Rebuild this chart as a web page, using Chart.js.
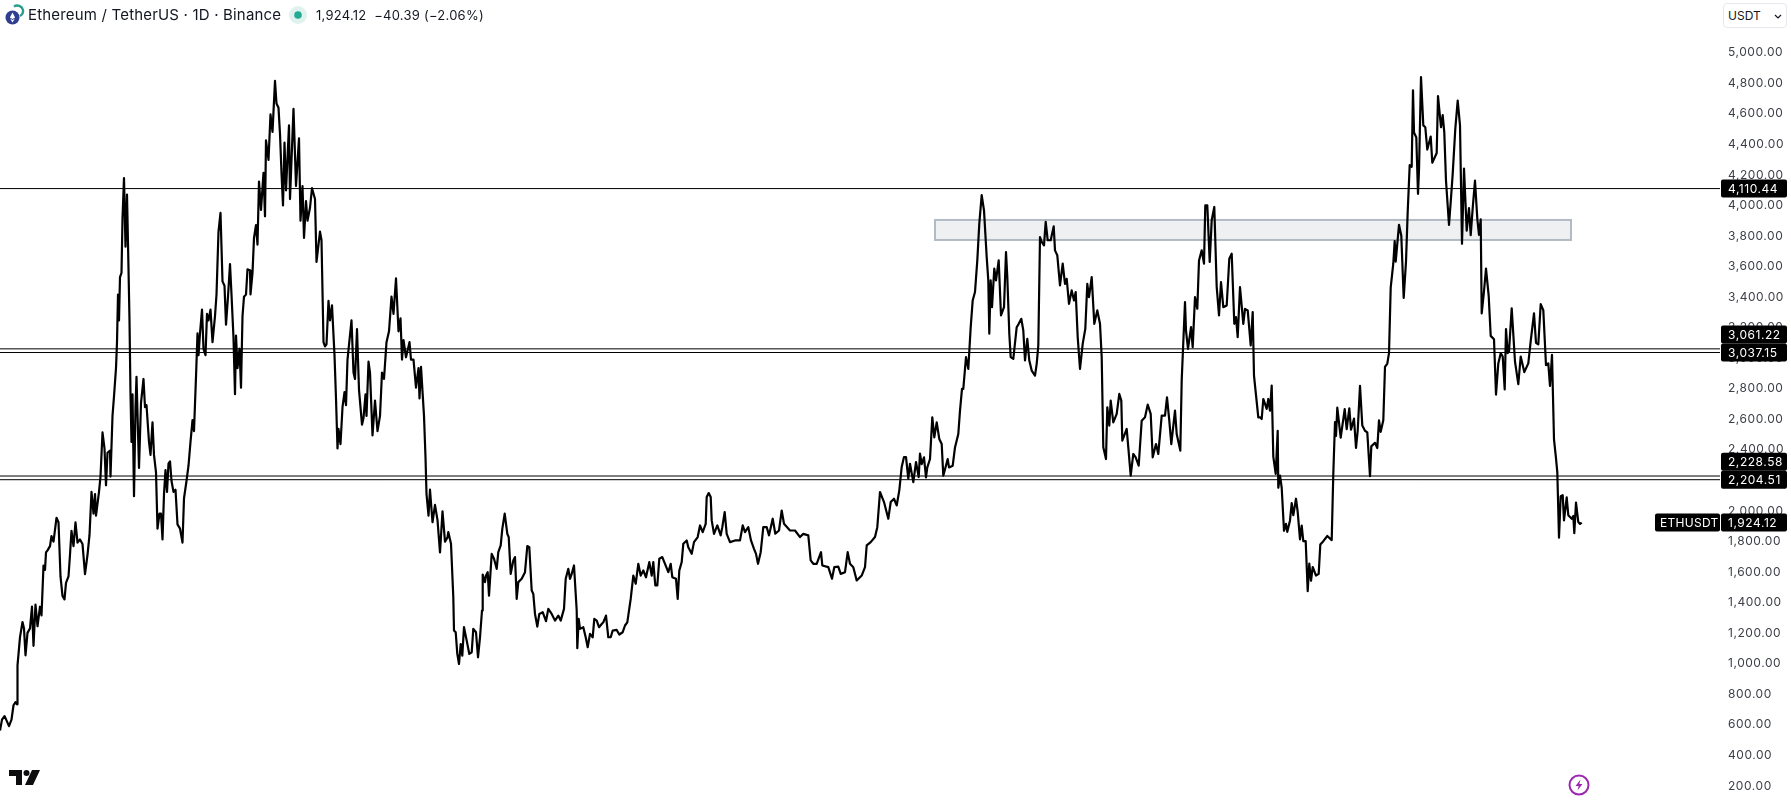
<!DOCTYPE html>
<html>
<head>
<meta charset="utf-8">
<title>Ethereum / TetherUS</title>
<script src="https://cdn.jsdelivr.net/npm/chart.js@4"></script>
<style>
  html, body { margin: 0; padding: 0; background: #fff; overflow: hidden; }
  #wrap { position: relative; width: 1791px; height: 803px; font-family: Inter, sans-serif; color: #131722; }
  #wrap canvas { position: absolute; left: 0; top: 0; }
  .abs { position: absolute; white-space: nowrap; }
  #title { left: 28px; top: 5px; font-size: 15px; line-height: 20px; letter-spacing: 0.18px; }
  #quote { left: 316px; top: 5px; font-size: 13px; line-height: 20px; letter-spacing: 0.24px; }
  #unit { left: 1723px; top: 3px; width: 62px; height: 23px; border: 1px solid #e6e8ee; border-radius: 4px; font-size: 12px; line-height: 23px; box-sizing: content-box; background: #fff; }
  #unit span { margin-left: 4px; }
</style>
</head>
<body>
<div id="wrap">
  <canvas id="ethChart" width="1791" height="803"></canvas>
  <svg class="abs" style="left:2px;top:3px" width="24" height="24" viewBox="0 0 24 24">
    <path d="M12 3.5a6 6 0 0 1 9 3.5a6 6 0 0 1 -3 6" fill="none" stroke="#2a9d8f" stroke-width="2.4"/>
    <circle cx="10.5" cy="14.5" r="7" fill="#2f3f8f"/>
    <path d="M10.5 9.5l2.6 5l-2.6 1.6l-2.6-1.6zM10.5 17l2.4-1.4l-2.4 4l-2.4-4z" fill="#fff"/>
  </svg>
  <div id="title" class="abs">Ethereum / TetherUS · 1D · Binance</div>
  <svg class="abs" style="left:288px;top:5px" width="20" height="20" viewBox="0 0 20 20">
    <circle cx="10" cy="10" r="9" fill="#e0f2ee"/>
    <circle cx="10" cy="10" r="3.8" fill="#22ab94"/>
  </svg>
  <div id="quote" class="abs">1,924.12&nbsp; −40.39 (−2.06%)</div>
  <div id="unit" class="abs"><span>USDT</span>
    <svg class="abs" style="left:50px;top:10px" width="8" height="5" viewBox="0 0 8 5"><path d="M1 1l3 3l3-3" fill="none" stroke="#131722" stroke-width="1.2"/></svg>
  </div>
  <svg class="abs" style="left:9px;top:769px" width="31" height="17" viewBox="0 0 31 17">
    <path d="M0 1h13v15h-6v-9h-7z" fill="#0d0d0f"/>
    <circle cx="17.5" cy="4" r="3" fill="#0d0d0f"/>
    <path d="M23 1h8l-7 15h-8z" fill="#0d0d0f"/>
  </svg>
  <svg class="abs" style="left:1567px;top:773px" width="24" height="24" viewBox="0 0 24 24">
    <circle cx="12" cy="12" r="9.5" fill="none" stroke="#9c27b0" stroke-width="2"/>
    <path d="M13.5 6.5l-5 6.5h3.2l-1.2 4.5l5-6.5h-3.2z" fill="#9c27b0"/>
  </svg>
</div>

<script>
const bars = [
  0,2,4.5,6.5,9,11.5,13.5,15.5,17,17.5,
  20,22.5,24,25.5,27.5,30,32,33.5,35.5,37.5,
  40,41.5,43.5,45,46,47.5,50,51.5,53.5,56.5,
  58.5,60.5,62.5,64.5,66,68.5,70,71.5,73.5,75.5,
  77.5,80,82.5,85,87.5,89.5,91.5,93.5,95,96,
  99,100.5,102.5,104.5,106,107.5,110,110.5,112.5,114,
  116,117,118,119,120,121.5,122.5,124,125.5,127,
  128.5,129.5,130.5,131.5,132.5,134,135.5,136.5,139,141,
  143.5,145,146.5,149,150.5,152.5,154,156,157.5,159.5,
  161,162.5,164,165.5,167,168.5,170,171.5,173.5,175.5,
  177.5,180,182.5,184,186.5,188.5,190.5,192.5,194,196,
  197.5,198.5,200,202,203.5,205.5,207,208.5,210.5,212.5,
  215,216.5,218.5,220.5,222.5,224.5,226,228,230,231.5,
  233.5,235,236,237.5,239.5,241,242.5,244,246,247.5,
  250,250.5,252.5,254,256,257.5,259,261,263.5,265,
  266,268.5,270.5,272.5,275,276.5,278.5,280,281.5,283,
  284.5,286,289,290,293.5,296,299,300.5,302.5,304,
  306,307.5,310,312,315,316.5,320,321.5,323.5,325,
  326.5,328.5,330,332,334.5,336,337.5,338.5,340.5,342.5,
  344.5,346,347.5,351.5,353.5,355,357,359,362,363.5,
  365.5,366.5,368.5,370,372.5,375,377.5,380,382,384,
  386.5,389,391.5,393.5,396,398.5,400.5,402,403.5,406,
  409.5,411,413.5,416,418.5,419.5,421,424,425.5,426.5,
  428.5,430,432.5,435,437.5,440,442.5,445,447.5,448.3,
  451,453.3,454,455.7,457.3,459,460.7,462.3,464,466.7,
  469.3,471.7,473.3,476,478,480,482,482.7,485,486,
  487.7,489,491.7,494,496.7,498.3,500.7,502.3,504.7,507.3,
  508.7,510.7,513.3,515,516.7,518.3,521.7,525,527.3,529.3,
  531.7,533.3,535,537.3,539.3,542.7,546,548.3,551.7,555,
  558.3,560.7,564,565.7,568.3,570,571.7,574,576.7,577.3,
  578.7,580,583.3,585.7,587.7,590,592.7,594.3,596.7,599,
  601.7,603.3,606,608.3,610.7,612.7,616.7,619.3,622.7,625,
  627.3,630.7,633.3,635.7,638.3,640.7,643.3,646,649.3,651.7,
  653.3,655.3,657.3,659.3,662.3,665,668.3,670.7,672.3,676,
  677.7,679.3,681.7,683.3,686.7,688.3,691.7,694,697.7,700,
  702.7,705.7,706.7,708.7,710.7,711.7,714,717.3,720.7,722.3,
  724.7,726.7,730,735,740,742.7,745,748.3,751,754,
  756,758,760.7,763.3,766.7,769,772.7,775.3,779,781.7,
  784,790,795,800,803.3,808.3,810.7,813.3,816.7,821,
  822.3,828.3,832,834.3,838.3,840.7,845,847.7,850,853.3,
  856.7,861.7,865,866.7,870.7,875,877.3,880,884,888.3,
  890.7,894,896.7,899.3,901.7,904,906,908.3,910,913.3,
  916,918.7,920,921.7,924,926,927.3,930,932.3,934.3,
  936.7,939.3,941.7,943.3,947.7,949,952.7,955,958.3,960,
  962,963.3,966,968.3,970.7,972.7,975,977.3,979.3,981.7,
  984,986.7,988.3,989.3,990.7,992,994.3,996,998.7,1001,
  1004,1006,1007.3,1009.3,1010.7,1013.3,1016.7,1018.7,1021.3,1023.3,
  1025,1027.3,1029.3,1031.7,1035,1036.7,1038.3,1040,1041.7,1044,
  1045.7,1047.7,1050.7,1053.7,1055,1057.3,1060,1062.7,1065,1066.7,
  1069,1071.7,1074,1075.7,1077.7,1080,1082.7,1085.3,1087.3,1089,
  1091.7,1094.3,1097.3,1100,1101.7,1103.3,1106,1107.3,1109.3,1110.7,
  1113.3,1116.7,1119.3,1121.3,1122.3,1126.7,1128.3,1130.7,1133.3,1135.7,
  1138.7,1141.7,1145,1147.7,1150.7,1152.7,1156,1158.3,1161.7,1165,
  1167,1169.3,1171.3,1175,1176.7,1180.3,1181.7,1185,1186,1188,
  1191,1192.7,1195,1197.3,1199,1201.7,1204,1205.3,1207.3,1209.7,
  1211.7,1214.3,1216.7,1219,1221,1223.3,1226.7,1229.3,1231.7,1234.3,
  1236,1237.7,1240,1243.3,1245,1247.7,1250.7,1252.7,1254,1258.3,
  1260,1261.7,1263.3,1266.7,1268.3,1270,1271.7,1273.3,1275.7,1277.7,
  1278.3,1280,1281.7,1284,1286,1287.3,1290,1291.7,1293.3,1296,
  1297.7,1300,1301.7,1303.3,1305.7,1307.7,1309.3,1311,1312.7,1316,
  1318.7,1320.3,1323.3,1327.3,1331.7,1333.3,1335,1336,1337.3,1340.7,
  1344.7,1346.7,1349.3,1351,1354,1356,1357.7,1360,1362.3,1365,
  1367.3,1370,1371.3,1375,1377.3,1379,1380.7,1383.3,1385,1387.3,
  1389,1390.7,1393.3,1394.7,1395.7,1399,1401.3,1403.7,1406,1407.7,
  1409.7,1411.7,1413,1414,1416.3,1418,1419,1421,1423.3,1425.3,
  1427.3,1430.7,1432.3,1436.7,1438,1441,1442.7,1444.3,1446,1449,
  1451,1452.7,1455.3,1457.7,1460,1462,1464,1466.7,1469,1470.7,
  1472.7,1475,1477.3,1479,1480.7,1481.7,1483.7,1486,1488.7,1490.7,
  1494,1496,1498.3,1500.7,1502.7,1504.7,1506,1507.7,1509,1511.7,
  1515,1518.3,1520.7,1524.3,1528.3,1530.7,1534,1536,1538.3,1540.7,
  1543.3,1546,1548.3,1550,1552,1554,1556,1557.3,1559,1560.7,
  1562.7,1564,1566.7,1568.3,1571.7,1573.3,1574.3,1576,1578.3,1580,
  1581.7
];
const closes = [
  563,634,657,629,591,634,728,748,734,989,
  1174,1273,1231,1055,1202,1231,1373,1117,1387,1245,
  1373,1316,1642,1614,1728,1742,1770,1836,1799,1955,
  1926,1571,1444,1421,1529,1571,1713,1870,1770,1926,
  1793,1813,1784,1586,1713,1841,2125,1983,2111,1969,
  2125,2225,2514,2409,2168,2381,2395,2225,2622,2750,
  2935,3105,3417,3247,3531,3559,3914,4179,3730,4071,
  3588,3247,2764,2452,2764,2097,2679,2878,2281,2707,
  2864,2679,2693,2452,2367,2580,2367,2253,1884,1983,
  1983,1813,2111,2267,2125,2310,2324,2196,2125,2139,
  1912,1884,1793,2083,2196,2296,2452,2594,2523,2878,
  3162,3020,3162,3318,3062,3020,3290,3247,3318,3105,
  3275,3417,3829,3951,3503,3474,3219,3403,3616,3417,
  3133,2764,3148,2935,3062,2807,3275,3403,3417,3582,
  3574,3417,3559,3787,3872,3744,4156,3971,4213,3929,
  4426,4298,4596,4482,4815,4667,4639,4468,4213,4000,
  4411,4099,4525,4042,4633,4127,4440,3900,4127,3787,
  4028,3900,3985,4113,4042,3630,3829,3772,3105,3077,
  3091,3375,3247,3346,3020,2736,2409,2537,2438,2679,
  2778,2693,2991,3247,2906,2864,3190,2793,2565,2608,
  2764,2622,2977,2906,2494,2722,2523,2622,2906,2864,
  3105,3176,3403,3290,3522,3176,3261,2991,3119,3006,
  3105,2991,2991,2807,2935,2736,2943,2622,2352,2111,
  1969,2139,1926,2040,1940,1728,1998,1799,1827,1862,
  1785,1436,1217,1206,1064,998,1129,1053,1239,1151,
  1064,1075,1228,1206,1042,1173,1348,1584,1534,1577,
  1599,1446,1719,1687,1621,1730,1774,1883,1982,1851,
  1829,1588,1676,1698,1424,1534,1556,1599,1770,1763,
  1479,1457,1326,1243,1326,1337,1278,1359,1326,1282,
  1315,1282,1359,1556,1621,1556,1588,1643,1348,1101,
  1293,1228,1239,1173,1108,1195,1173,1293,1282,1239,
  1260,1271,1315,1173,1173,1217,1221,1191,1206,1250,
  1271,1424,1577,1523,1654,1577,1610,1566,1665,1577,
  1665,1512,1512,1687,1698,1654,1599,1654,1566,1556,
  1424,1610,1665,1785,1807,1763,1719,1796,1829,1905,
  1861,1916,2091,2117,2091,1938,1850,1905,1840,1894,
  1993,1850,1796,1807,1807,1905,1861,1894,1807,1752,
  1719,1654,1730,1894,1894,1840,1949,1851,1872,2003,
  1916,1872,1872,1829,1850,1840,1676,1654,1654,1730,
  1643,1632,1556,1632,1636,1588,1599,1730,1654,1632,
  1545,1577,1632,1774,1796,1829,1894,2124,2058,1949,
  2058,2080,2036,2135,2288,2353,2353,2211,2309,2189,
  2320,2222,2375,2307,2351,2220,2285,2340,2613,2482,
  2580,2471,2438,2231,2340,2285,2296,2416,2504,2657,
  2799,2799,3007,2930,3203,3378,3433,3640,3881,4067,
  3968,3662,3509,3160,3509,3334,3586,3509,3640,3280,
  3334,3695,3531,3160,3007,2996,3203,3225,3258,3181,
  2985,3127,2985,2919,2886,2963,3083,3793,3761,3739,
  3892,3772,3772,3863,3706,3673,3477,3619,3487,3520,
  3356,3444,3378,3433,3138,2930,3094,3192,3487,3400,
  3531,3225,3313,3225,3007,2417,2340,2679,2559,2722,
  2580,2635,2766,2722,2460,2537,2416,2231,2373,2351,
  2296,2591,2613,2696,2635,2351,2438,2373,2624,2624,
  2744,2591,2438,2657,2504,2395,2854,3367,3181,3061,
  3203,3072,3400,3324,3640,3706,3619,4001,4001,3630,
  3903,3990,3466,3280,3498,3334,3345,3651,3684,3225,
  3269,3138,3466,3225,3323,3313,3083,3302,2886,2613,
  2613,2602,2733,2668,2733,2657,2821,2356,2243,2525,
  2152,2232,2152,1870,1915,1863,1938,2051,1972,2080,
  1994,1814,1904,1802,1802,1475,1656,1543,1633,1577,
  1588,1780,1802,1836,1809,2243,2582,2491,2676,2480,
  2667,2536,2672,2532,2604,2412,2525,2819,2559,2525,
  2514,2227,2423,2446,2412,2593,2518,2593,2943,2965,
  3033,3462,3620,3767,3632,3873,3801,3394,3632,3959,
  4264,4253,4754,4478,4445,4076,4230,4840,4524,4512,
  4366,4451,4280,4343,4716,4512,4591,4478,4162,3873,
  4049,4207,4501,4686,4524,3749,4241,3835,3982,3805,
  3982,4162,3914,3808,3909,3293,3417,3586,3408,3146,
  3124,2762,2966,3033,3011,2796,3191,3033,3044,3327,
  2977,2830,3011,2909,2966,3112,3293,3101,3090,3354,
  3315,2954,2966,2819,3022,2469,2344,2254,1825,2096,
  2103,1938,2089,1972,1949,1967,1854,2055,1927,1915,
  1924.12
];
const levels = [4110.44, 3061.22, 3037.15, 2228.58, 2204.51];
const yTicks = [5000,4800,4600,4400,4200,4000,3800,3600,3400,3200,3000,2800,2600,2400,2200,2000,1800,1600,1400,1200,1000,800,600,400,200];
const zoneBars = [935, 1571];
const zonePrices = [3905, 3774];
const symbol = 'ETHUSDT';
const lastPrice = 1924.12;

const money = v => v.toLocaleString('en-US', { minimumFractionDigits: 2, maximumFractionDigits: 2 });

function tag(ctx, x, y, w, text, textX) {
  ctx.fillStyle = '#000';
  ctx.beginPath();
  ctx.roundRect(x, y - 9, w, 18, 2);
  ctx.fill();
  ctx.fillStyle = '#fff';
  ctx.textAlign = 'left';
  ctx.textBaseline = 'middle';
  ctx.fillText(text, textX, y + 0.5);
}

const overlays = {
  id: 'overlays',
  beforeDraw(chart) {
    // the axis text in the reference is a bit wider than plain Inter
    chart.ctx.letterSpacing = '0.55px';
  },
  beforeDatasetsDraw(chart) {
    const { ctx, scales: { x, y } } = chart;
    const left = x.getPixelForValue(zoneBars[0]), right = x.getPixelForValue(zoneBars[1]);
    const top = y.getPixelForValue(zonePrices[0]), bottom = y.getPixelForValue(zonePrices[1]);
    ctx.save();
    ctx.fillStyle = '#eef0f2';
    ctx.strokeStyle = '#b2bac4';
    ctx.lineWidth = 2;
    ctx.fillRect(left, top, right - left, bottom - top);
    ctx.strokeRect(left, top, right - left, bottom - top);
    ctx.restore();
  },
  afterDraw(chart) {
    const { ctx, scales: { y } } = chart;
    ctx.save();
    ctx.font = '12px Inter';
    // lowest level first, tags that would overlap get pushed up
    let prev = Infinity;
    levels.slice().sort((a, b) => a - b).forEach(level => {
      let py = y.getPixelForValue(level);
      if (prev - py < 18) py = prev - 18;
      tag(ctx, 1721, py, 66, money(level), 1728);
      prev = py;
    });
    const py = y.getPixelForValue(lastPrice);
    tag(ctx, 1721, py, 66, money(lastPrice), 1728);
    ctx.letterSpacing = '0.3px';
    tag(ctx, 1655, py, 65, symbol, 1660);
    ctx.restore();
  }
};

const datasets = [{
  data: bars.map((b, i) => ({ x: b, y: closes[i] })),
  borderColor: '#000',
  borderWidth: 2.2,
  borderJoinStyle: 'round',
  pointRadius: 0,
  tension: 0
}];
levels.forEach(level => {
  datasets.push({
    data: [{ x: 0, y: level }, { x: 1720, y: level }],
    borderColor: '#000',
    borderWidth: 1,
    pointRadius: 0
  });
});

new Chart(document.getElementById('ethChart'), {
  type: 'line',
  data: { datasets },
  plugins: [overlays],
  options: {
    responsive: false,
    animation: false,
    layout: { padding: 0 },
    plugins: { legend: { display: false }, tooltip: { enabled: false } },
    scales: {
      x: { type: 'linear', min: 0, max: 1720, display: false },
      y: {
        position: 'right',
        min: 88,
        max: 5345,
        grid: { display: false, drawTicks: false },
        border: { display: false },
        afterFit(scale) {
          scale.width = 71;
          scale.paddingTop = 0;
          scale.paddingBottom = 0;
        },
        afterBuildTicks(scale) { scale.ticks = yTicks.map(v => ({ value: v })); },
        ticks: {
          autoSkip: false,
          padding: 8,
          color: '#3c3f47',
          font: { family: 'Inter', size: 12 },
          callback: v => money(v)
        }
      }
    }
  }
});
</script>
</body>
</html>
